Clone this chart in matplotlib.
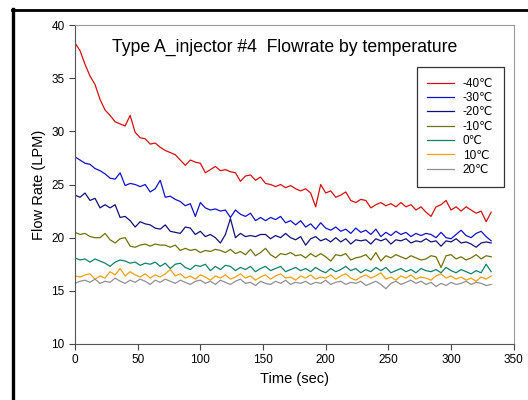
import numpy as np
import matplotlib
matplotlib.use("Agg")  # sem janela
import matplotlib.pyplot as plt
from matplotlib.lines import Line2D

plt.rcParams['font.family'] = ['Liberation Sans', 'DejaVu Sans']

# ─────────────────────────────────────────────
# Dados (a cada 4 s)
# ─────────────────────────────────────────────
time_sec = np.arange(0, 333, 4)

labels = ["-40\u2103", "-30\u2103", "-20\u2103", "-10\u2103", "0\u2103", "10\u2103", "20\u2103"]

flow_m40 = [38.3, 37.6, 36.3, 35.2, 34.4, 33.0, 32.0, 31.5, 30.9, 30.7, 30.5, 31.5,
            29.9, 29.4, 29.3, 28.8, 28.9, 28.5, 28.2, 28.0, 27.8, 27.3, 26.8, 27.3,
            27.1, 27.0, 26.1, 26.4, 26.7, 26.3, 26.4, 26.2, 26.1, 25.3, 25.8, 25.9,
            25.4, 25.7, 25.1, 25.0, 24.8, 25.0, 24.7, 24.9, 24.6, 24.4, 24.6, 24.2,
            22.9, 25.0, 24.2, 24.4, 23.8, 24.0, 24.3, 23.5, 23.3, 23.6, 23.5, 22.8,
            23.1, 23.3, 23.0, 23.2, 22.9, 23.3, 22.9, 23.1, 22.6, 22.9, 22.4, 22.0,
            22.9, 23.1, 23.5, 22.6, 22.9, 22.5, 22.9, 22.6, 22.3, 22.5, 21.5, 22.4]

flow_m30 = [27.6, 27.3, 27.0, 26.9, 26.5, 26.3, 26.0, 25.6, 25.5, 26.1, 24.9, 25.1,
            25.0, 24.8, 25.0, 24.3, 24.6, 25.4, 23.8, 23.9, 23.6, 23.4, 23.0, 23.2,
            22.0, 23.3, 22.8, 22.6, 22.7, 22.5, 22.6, 21.9, 22.6, 22.2, 22.0, 22.3,
            21.6, 21.9, 21.6, 21.9, 21.7, 22.0, 21.4, 21.6, 21.2, 21.6, 21.0, 21.3,
            20.8, 21.4, 20.9, 20.7, 21.0, 20.6, 20.8, 20.4, 20.9, 20.5, 20.7, 20.3,
            20.8, 20.1, 20.5, 20.2, 20.6, 20.3, 20.5, 20.1, 20.4, 20.2, 20.4, 20.3,
            20.0, 20.5, 20.0, 19.9, 20.3, 20.7, 20.2, 20.0, 20.4, 20.6, 20.1, 19.7]

flow_m20 = [24.0, 23.8, 24.2, 23.5, 23.7, 22.8, 23.1, 22.8, 23.1, 21.9, 22.0, 21.6,
            21.0, 21.5, 21.3, 21.2, 20.9, 20.8, 21.2, 20.6, 20.5, 20.4, 21.0, 20.9,
            20.3, 20.6, 20.1, 20.3, 20.0, 19.5, 20.3, 21.8, 20.0, 20.4, 20.1, 20.2,
            20.1, 20.3, 20.3, 19.9, 20.2, 20.0, 20.4, 20.0, 19.8, 20.1, 19.3, 19.9,
            20.1, 19.7, 19.9, 19.6, 20.0, 19.6, 19.9, 19.4, 19.8, 19.7, 19.8, 19.4,
            19.9, 19.7, 19.9, 19.4, 19.8, 19.7, 19.9, 19.5, 19.7, 19.6, 19.9, 19.6,
            19.7, 19.2, 19.7, 19.6, 19.9, 19.5, 19.6, 19.4, 19.1, 19.5, 19.6, 19.5]

flow_m10 = [20.5, 20.3, 20.4, 20.1, 20.0, 20.0, 20.4, 19.8, 19.5, 19.9, 20.0, 19.2,
            19.1, 19.3, 19.4, 19.2, 19.4, 19.3, 19.3, 19.1, 19.3, 18.8, 19.0, 18.8,
            18.9, 18.6, 18.8, 18.7, 18.9, 18.8, 18.6, 18.9, 18.5, 18.7, 18.4, 18.9,
            18.3, 18.6, 19.0, 18.4, 18.1, 18.5, 18.4, 18.6, 18.3, 18.4, 18.1, 18.5,
            18.2, 18.5, 18.2, 17.8, 18.4, 18.3, 18.5, 17.9, 18.1, 18.2, 18.4, 17.9,
            18.6, 17.8, 18.3, 18.1, 18.4, 18.2, 18.0, 18.3, 18.1, 17.9, 18.0, 18.3,
            18.2, 17.2, 18.3, 18.4, 18.0, 18.2, 17.9, 18.1, 18.4, 18.0, 18.3, 18.2]

flow_0 = [18.1, 17.9, 18.0, 17.7, 18.0, 17.8, 17.6, 17.3, 17.7, 17.9, 17.8, 17.6,
          17.7, 17.4, 17.6, 17.5, 17.7, 17.3, 17.6, 17.1, 17.5, 17.6, 17.2, 17.0,
          17.4, 17.3, 17.5, 16.9, 17.3, 17.0, 17.4, 17.3, 16.9, 17.2, 17.0, 17.3,
          16.8, 17.1, 17.3, 16.9, 17.1, 17.3, 16.8, 17.0, 17.2, 16.9, 17.1, 16.8,
          17.2, 16.9, 16.7, 17.1, 16.8, 17.0, 17.3, 16.9, 17.1, 16.7, 17.0, 16.8,
          17.2, 16.9, 17.2, 16.7, 16.9, 17.1, 16.8, 17.0, 16.7, 17.1, 16.9, 16.8,
          17.0, 16.7, 17.2, 16.9, 16.7, 17.0, 16.8, 16.6, 16.9, 16.7, 17.5, 16.8]

flow_10 = [16.4, 16.3, 16.5, 16.6, 16.1, 16.4, 16.2, 16.8, 16.5, 17.1, 16.4, 16.8,
           16.5, 16.3, 16.6, 16.2, 16.5, 16.3, 16.6, 17.0, 16.4, 16.6, 16.2, 16.4,
           16.1, 16.5, 16.3, 16.0, 16.4, 16.2, 16.5, 16.1, 16.3, 16.6, 16.2, 16.4,
           16.0, 16.3, 16.5, 16.1, 16.4, 16.6, 16.2, 16.3, 16.0, 16.4, 16.2, 16.5,
           16.1, 16.3, 16.2, 16.5, 16.1, 16.4, 16.6, 16.2, 16.0, 16.3, 16.5, 16.2,
           16.4, 16.7, 16.1, 16.3, 16.0, 16.4, 16.2, 16.5, 16.1, 16.3, 16.2, 16.0,
           16.4, 16.6, 16.2, 16.4, 16.1, 16.3, 16.0, 16.2, 15.9, 16.3, 16.1, 16.4]

flow_20 = [15.7, 15.9, 16.0, 15.8, 16.1, 15.7, 15.9, 15.8, 16.2, 15.9, 15.7, 16.0,
           15.8, 16.1, 15.9, 15.6, 16.0, 15.8, 16.1, 15.9, 15.7, 16.0, 15.8, 15.6,
           15.9, 16.0, 15.7, 15.9, 15.6, 16.0, 15.8, 15.6, 15.9, 16.1, 15.7, 15.8,
           15.5, 15.9, 15.7, 15.6, 15.9, 15.7, 16.0, 15.6, 15.8, 15.7, 15.9, 15.6,
           15.8, 15.7, 16.0, 15.6, 15.8, 15.9, 15.6, 15.8, 15.7, 15.9, 15.5, 15.7,
           15.9, 15.6, 15.2, 15.7, 15.9, 15.6, 15.8, 16.0, 15.7, 15.9, 15.6, 15.8,
           15.4, 15.7, 15.5, 15.8, 15.6, 15.7, 15.9, 15.6, 15.8, 15.7, 15.5, 15.6]

series = [flow_m40, flow_m30, flow_m20, flow_m10, flow_0, flow_10, flow_20]
colors = ["#d01010", "#1010c8", "#10107a", "#70700a", "#108068", "#f0a010", "#909090"]

# ─────────────────────────────────────────────
# Figura
# ─────────────────────────────────────────────
fig = plt.figure(figsize=(5.28, 4.00), dpi=100)
ax = fig.add_axes([0.142, 0.14, 0.831, 0.7975])

for vals, lab, col in zip(series, labels, colors):
    ax.plot(time_sec, vals, color=col, lw=0.9, label=lab)

ax.set_xlim(0, 350)
ax.set_ylim(10, 40)
ax.set_xticks(np.arange(0, 351, 50))
ax.set_yticks(np.arange(10, 41, 5))
ax.tick_params(direction="out", length=4, width=0.8, labelsize=8.5, color="#444444")
for side in ["left", "bottom"]:
    ax.spines[side].set_color("#555555")
for side in ["top", "right"]:
    ax.spines[side].set_color("#999999")

ax.set_xlabel("Time (sec)", fontsize=10.5)
ax.set_ylabel("Flow Rate (LPM)", fontsize=10.5)
ax.text(0.478, 0.93, "Type A_injector #4  Flowrate by temperature",
        transform=ax.transAxes, ha="center", va="center", fontsize=12.7)

leg = ax.legend(loc="upper right", bbox_to_anchor=(0.977, 0.868), fontsize=8.5,
                frameon=True, fancybox=False, handlelength=2.3, labelspacing=0.2,
                borderpad=0.9, handletextpad=0.7, borderaxespad=0)
leg.get_frame().set_edgecolor("black")
leg.get_frame().set_linewidth(0.9)

# moldura preta externa
fig.add_artist(Line2D([0.025, 0.025], [0.0, 0.977], transform=fig.transFigure,
                      color="black", lw=2.4))
fig.add_artist(Line2D([0.023, 1.0], [0.975, 0.975], transform=fig.transFigure,
                      color="black", lw=2.0))

plt.savefig("out.png", dpi=100)
plt.close()
